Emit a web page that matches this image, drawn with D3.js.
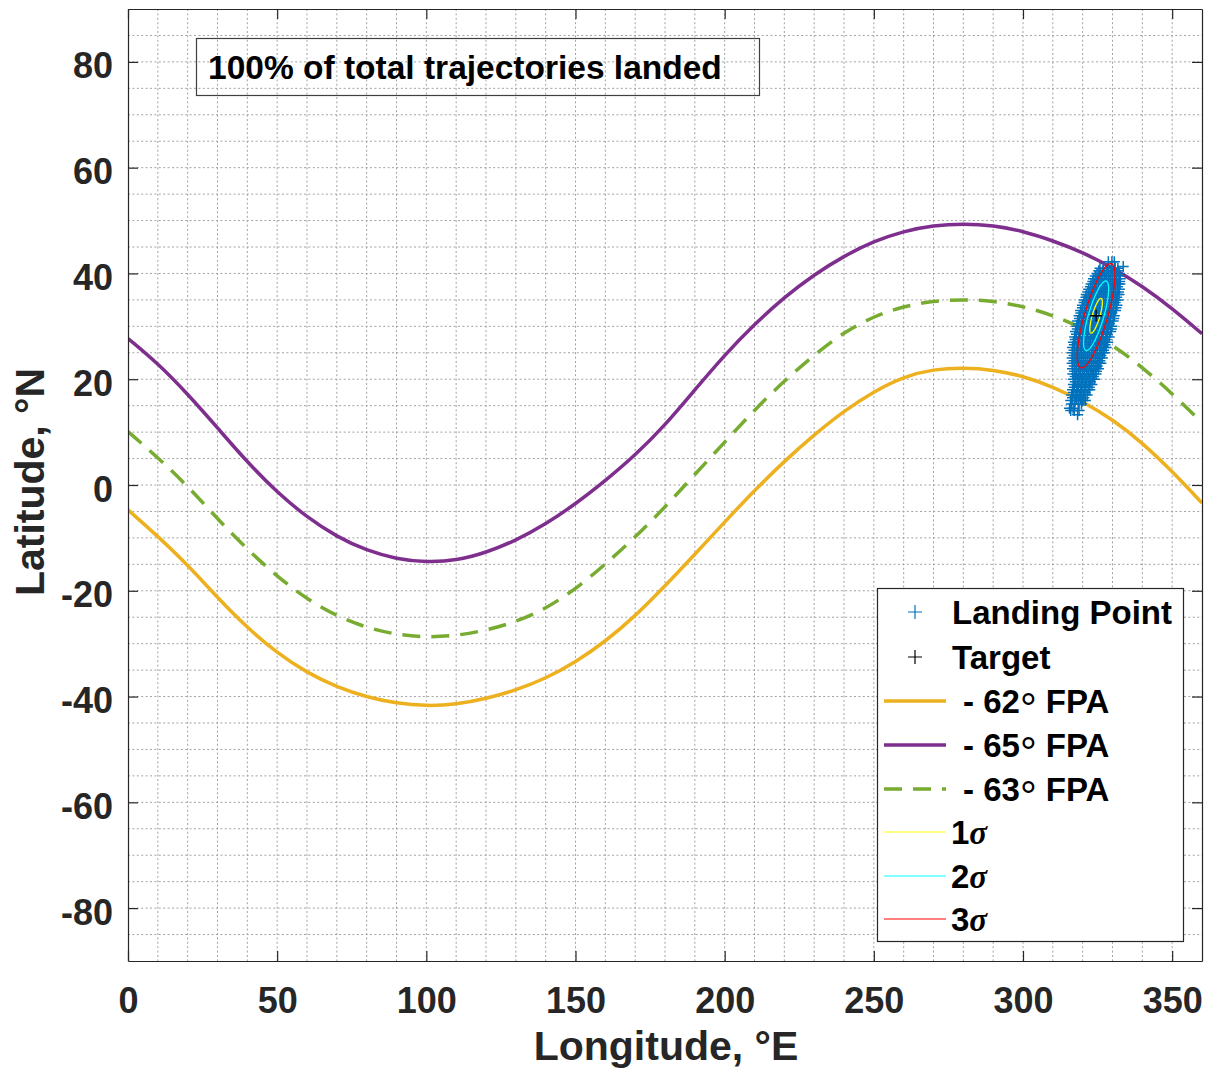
<!DOCTYPE html>
<html>
<head>
<meta charset="utf-8">
<script src="https://cdn.jsdelivr.net/npm/d3@7"></script>
<style>
  body { margin: 0; background: #fff; }
  svg { display: block; }
  text { font-family: "Liberation Sans", Arial, Helvetica, sans-serif; }
</style>
</head>
<body>
<svg id="chart" width="1209" height="1074"></svg>
<script>
// ---- Data -------------------------------------------------------------
// Longitude samples (deg E) shared by the three flight-path-angle tracks
const longitudes = [0,10,20,30,40,50,60,70,80,90,100,110,120,130,140,150,160,170,180,
                    190,200,210,220,230,240,250,260,270,280,290,300,310,320,330,340,350,360];

// Latitude (deg N) of each constant-FPA entry track
const fpa62 = [-4.7,-9.7,-15.1,-21.3,-27.0,-31.8,-35.5,-38.2,-40.1,-41.3,-41.8,-41.5,-40.4,-38.8,
               -36.6,-33.5,-29.6,-24.8,-19.1,-13.1,-7.0,-1.0,4.5,9.5,14.0,17.7,20.5,21.9,22.2,
               21.8,20.6,18.6,15.8,12.4,8.0,2.6,-3.4];
const fpa65 = [27.7,23.0,17.2,10.8,4.3,-1.4,-6.1,-9.8,-12.4,-14.0,-14.6,-14.3,-12.8,-10.5,
               -7.4,-3.6,0.8,5.6,11.3,18.0,24.6,30.4,35.5,39.8,43.3,46.1,48.0,49.1,49.4,
               49.1,48.0,46.2,44.0,41.1,37.6,33.4,28.6];
const fpa63 = [10.1,5.2,-0.2,-6.4,-12.2,-17.3,-21.6,-24.8,-27.0,-28.3,-28.8,-28.5,-27.5,-25.9,
               -23.4,-19.7,-15.0,-9.9,-4.2,2.0,8.1,14.2,19.7,24.6,28.9,31.9,33.8,34.8,35.1,
               34.8,33.8,32.1,29.7,26.5,22.3,17.3,11.8];

// Monte Carlo landing points, grouped by latitude row: [lat, [lon, lon, ...]]
const landingRows = [
  [42.2, [328.6, 329.8, 330.6]],
  [41.3, [333.6]],
  [41.0, [325.8, 327.0, 328.3, 329.6, 330.9, 331.8]],
  [40.5, [325.4, 326.7, 328.0, 329.3, 330.6, 331.8]],
  [40.0, [324.8, 326.1, 327.4, 328.7, 330.0, 331.3, 332.3]],
  [39.5, [324.2, 325.5, 326.8, 328.1, 329.4, 330.7, 332.0]],
  [39.0, [323.6, 324.9, 326.2, 327.5, 328.8, 330.1, 331.4, 332.6]],
  [38.5, [323.4, 324.7, 326.0, 327.3, 328.6, 329.9, 331.2, 332.4]],
  [38.0, [322.8, 324.1, 325.4, 326.7, 328.0, 329.3, 330.6, 331.9, 332.5]],
  [37.5, [322.6, 323.9, 325.2, 326.5, 327.8, 329.1, 330.4, 331.7]],
  [37.0, [322.0, 323.3, 324.6, 325.9, 327.2, 328.5, 329.8, 331.1, 332.3]],
  [36.5, [321.8, 323.1, 324.4, 325.7, 327.0, 328.3, 329.6, 330.9, 332.0]],
  [36.0, [321.2, 322.5, 323.8, 325.1, 326.4, 327.7, 329.0, 330.3, 331.6, 332.2]],
  [35.5, [321.1, 322.4, 323.7, 325.0, 326.3, 327.6, 328.9, 330.2, 331.4]],
  [35.0, [320.5, 321.8, 323.1, 324.4, 325.7, 327.0, 328.3, 329.6, 330.9, 331.9]],
  [34.5, [320.5, 321.8, 323.1, 324.4, 325.7, 327.0, 328.3, 329.6, 330.9]],
  [34.0, [319.9, 321.2, 322.5, 323.8, 325.1, 326.4, 327.7, 329.0, 330.3, 331.5]],
  [33.5, [319.9, 321.2, 322.5, 323.8, 325.1, 326.4, 327.7, 329.0, 330.3, 331.2]],
  [33.0, [319.3, 320.6, 321.9, 323.2, 324.5, 325.8, 327.1, 328.4, 329.7, 331.0]],
  [32.5, [319.4, 320.7, 322.0, 323.3, 324.6, 325.9, 327.2, 328.5, 329.8]],
  [32.0, [318.8, 320.1, 321.4, 322.7, 324.0, 325.3, 326.6, 327.9, 329.2, 330.6]],
  [31.5, [318.9, 320.2, 321.5, 322.8, 324.1, 325.4, 326.7, 328.0, 329.3, 330.4]],
  [31.0, [318.3, 319.6, 320.9, 322.2, 323.5, 324.8, 326.1, 327.4, 328.7, 330.2]],
  [30.5, [318.6, 319.9, 321.2, 322.5, 323.8, 325.1, 326.4, 327.7, 329.0]],
  [30.0, [318.0, 319.3, 320.6, 321.9, 323.2, 324.5, 325.8, 327.1, 328.4, 329.8]],
  [29.5, [318.2, 319.5, 320.8, 322.1, 323.4, 324.7, 326.0, 327.3, 328.6, 329.6]],
  [29.0, [317.6, 318.9, 320.2, 321.5, 322.8, 324.1, 325.4, 326.7, 328.0, 329.4]],
  [28.5, [317.9, 319.2, 320.5, 321.8, 323.1, 324.4, 325.7, 327.0, 328.3]],
  [28.0, [317.3, 318.6, 319.9, 321.2, 322.5, 323.8, 325.1, 326.4, 327.7, 328.9]],
  [27.5, [317.5, 318.8, 320.1, 321.4, 322.7, 324.0, 325.3, 326.6, 327.9]],
  [27.0, [316.9, 318.2, 319.5, 320.8, 322.1, 323.4, 324.7, 326.0, 327.3, 328.4]],
  [26.5, [317.2, 318.5, 319.8, 321.1, 322.4, 323.7, 325.0, 326.3, 327.5]],
  [26.0, [316.6, 317.9, 319.2, 320.5, 321.8, 323.1, 324.4, 325.7, 327.0, 327.9]],
  [25.5, [317.1, 318.4, 319.7, 321.0, 322.3, 323.6, 324.9, 326.2, 327.0]],
  [25.0, [316.5, 317.8, 319.1, 320.4, 321.7, 323.0, 324.3, 325.6, 326.8, 327.3]],
  [24.5, [317.1, 318.4, 319.7, 321.0, 322.3, 323.6, 324.9, 326.1]],
  [24.0, [316.5, 317.7, 319.0, 320.3, 321.6, 322.9, 324.2, 325.5, 326.6]],
  [23.5, [317.1, 318.4, 319.7, 321.0, 322.3, 323.6, 324.9, 325.8]],
  [23.0, [316.5, 317.8, 319.1, 320.4, 321.7, 323.0, 324.3, 325.6, 326.1]],
  [22.5, [317.2, 318.5, 319.8, 321.1, 322.4, 323.7, 324.9]],
  [22.0, [316.6, 317.9, 319.2, 320.5, 321.8, 323.1, 324.4, 325.3]],
  [21.5, [317.3, 318.6, 319.9, 321.2, 322.5, 323.8, 324.6]],
  [21.0, [316.7, 318.0, 319.3, 320.6, 321.9, 323.2, 324.5]],
  [20.5, [317.5, 318.8, 320.1, 321.4, 322.7, 323.6]],
  [20.0, [316.9, 318.2, 319.5, 320.8, 322.1, 323.4, 324.0]],
  [19.5, [317.5, 318.8, 320.1, 321.4, 322.6]],
  [19.0, [316.9, 318.2, 319.5, 320.8, 322.1, 323.1]],
  [18.5, [317.2, 318.5, 319.8, 321.1, 322.2]],
  [18.0, [316.6, 317.9, 319.2, 320.5, 321.8, 322.4]],
  [17.5, [316.9, 318.2, 319.5, 320.8]],
  [17.0, [316.3, 317.6, 318.9, 320.2, 321.5]],
  [16.5, [316.6, 317.9, 319.2, 320.4]],
  [16.0, [316.0, 317.3, 318.6, 320.0, 320.9]],
  [15.3, [316.2, 317.4, 318.5, 319.6]],
  [14.5, [315.6, 316.8]],
  [14.1, [316.0, 317.2, 318.8]],
  [13.3, [318.3]]
];

// Target landing site and dispersion ellipse (3-sigma semi-axes, deg)
const target = [324.5, 32.0];
const sigma3Major = [5.1, 9.85];
const sigma3Minor = [3.7, -0.6];
const sigmaLevels = [1, 2, 3];
const sigmaColors = ["#ffff00", "#00ffff", "#ff0000"];

const xTickValues = [0, 50, 100, 150, 200, 250, 300, 350];
const yTickValues = [-80, -60, -40, -20, 0, 20, 40, 60, 80];
const annotation = "100% of total trajectories landed";

// ---- Layout -----------------------------------------------------------
const svg = d3.select("#chart");
const plot = { left: 128, right: 1202, top: 9, bottom: 961 };
const x = d3.scaleLinear().domain([0, 360]).range([plot.left, plot.right]);
const y = d3.scaleLinear().domain([-90, 90]).range([plot.bottom, plot.top]);
const axisColor = "#262626";

svg.append("defs").append("clipPath").attr("id", "plotClip")
  .append("rect")
  .attr("x", plot.left).attr("y", plot.top)
  .attr("width", plot.right - plot.left).attr("height", plot.bottom - plot.top);

// ---- Grid (dotted, every 10 deg lon and 5 deg lat) ----------------------
const grid = svg.append("g").attr("stroke", "#a2a2a2").attr("stroke-width", 1)
  .attr("stroke-dasharray", "2,2.4");
grid.selectAll("line.gx").data(d3.range(10, 360, 10)).join("line")
  .attr("x1", d => x(d)).attr("x2", d => x(d))
  .attr("y1", plot.top).attr("y2", plot.bottom);
grid.selectAll("line.gy").data(d3.range(-85, 90, 5)).join("line")
  .attr("y1", d => y(d)).attr("y2", d => y(d))
  .attr("x1", plot.left).attr("x2", plot.right);

// ---- FPA tracks --------------------------------------------------------
const tracks = [
  { angle: "62", values: fpa62, color: "#EDB120", dash: null },
  { angle: "65", values: fpa65, color: "#7E2F8E", dash: null },
  { angle: "63", values: fpa63, color: "#77AC30", dash: "18,11" }
];
const line = d3.line().x(d => x(d[0])).y(d => y(d[1])).curve(d3.curveBasis);
const trackG = svg.append("g").attr("clip-path", "url(#plotClip)");
tracks.forEach(t => {
  trackG.append("path")
    .datum(longitudes.map((lon, i) => [lon, t.values[i]]))
    .attr("d", line)
    .attr("fill", "none")
    .attr("stroke", t.color)
    .attr("stroke-width", 3.5)
    .attr("stroke-dasharray", t.dash);
});

// ---- Landing points ----------------------------------------------------
const landingPoints = landingRows.flatMap(([lat, lons]) => lons.map(lon => [lon, lat]));
const plus = (cx, cy, r) => `M${cx - r},${cy}h${2 * r}M${cx},${cy - r}v${2 * r}`;
svg.append("g").attr("clip-path", "url(#plotClip)")
  .selectAll("path").data(landingPoints).join("path")
  .attr("d", d => plus(x(d[0]), y(d[1]), 5.5))
  .attr("fill", "none").attr("stroke", "#0072BD").attr("stroke-width", 1.5);

// ---- Dispersion ellipses ------------------------------------------------
const angles = d3.range(0, 361, 3).map(a => a * Math.PI / 180);
sigmaLevels.forEach((k, i) => {
  const s = k / 3;
  const pts = angles.map(t => [
    target[0] + s * (Math.cos(t) * sigma3Major[0] + Math.sin(t) * sigma3Minor[0]),
    target[1] + s * (Math.cos(t) * sigma3Major[1] + Math.sin(t) * sigma3Minor[1])
  ]);
  svg.append("path")
    .datum(pts)
    .attr("d", d3.line().x(d => x(d[0])).y(d => y(d[1])))
    .attr("fill", "none")
    .attr("stroke", sigmaColors[i])
    .attr("stroke-width", 1.3);
});

// ---- Target --------------------------------------------------------------
svg.append("path")
  .attr("d", plus(x(target[0]), y(target[1]), 6))
  .attr("stroke", "#000").attr("stroke-width", 1.3);

// ---- Axes (box with inward ticks) ---------------------------------------
const fmt = d => String(d);
const bottomAxis = svg.append("g").attr("transform", `translate(0,${plot.bottom})`)
  .call(d3.axisBottom(x).tickValues(xTickValues).tickSizeInner(-10).tickSizeOuter(0).tickPadding(14).tickFormat(fmt));
const topAxis = svg.append("g").attr("transform", `translate(0,${plot.top})`)
  .call(d3.axisTop(x).tickValues(xTickValues).tickSizeInner(-10).tickSizeOuter(0).tickFormat(""));
const leftAxis = svg.append("g").attr("transform", `translate(${plot.left},0)`)
  .call(d3.axisLeft(y).tickValues(yTickValues).tickSizeInner(-10).tickSizeOuter(0).tickPadding(14).tickFormat(fmt));
const rightAxis = svg.append("g").attr("transform", `translate(${plot.right},0)`)
  .call(d3.axisRight(y).tickValues(yTickValues).tickSizeInner(-10).tickSizeOuter(0).tickFormat(""));

[bottomAxis, topAxis, leftAxis, rightAxis].forEach(g => {
  g.select(".domain").attr("stroke", axisColor).attr("stroke-width", 1.2);
  g.selectAll(".tick line").attr("stroke", axisColor).attr("stroke-width", 1.2);
  g.selectAll(".tick text")
    .attr("fill", axisColor)
    .attr("font-size", 36)
    .attr("font-weight", "bold")
    .attr("font-family", "Liberation Sans, Arial, sans-serif");
});
bottomAxis.selectAll(".tick text").attr("dy", null).attr("y", 52);
leftAxis.selectAll(".tick text").attr("dy", null).attr("y", 16).attr("x", -15);

// Axis titles
svg.append("text")
  .attr("x", 666).attr("y", 1060)
  .attr("text-anchor", "middle")
  .attr("font-size", 41).attr("font-weight", "bold").attr("fill", axisColor)
  .text("Longitude, °E");
svg.append("text")
  .attr("transform", "translate(44,482) rotate(-90)")
  .attr("text-anchor", "middle")
  .attr("font-size", 41).attr("font-weight", "bold").attr("fill", axisColor)
  .text("Latitude, °N");

// ---- Annotation box ------------------------------------------------------
svg.append("rect")
  .attr("x", 196.5).attr("y", 38.5).attr("width", 563).attr("height", 57)
  .attr("fill", "none").attr("stroke", "#404040").attr("stroke-width", 1.2);
svg.append("text")
  .attr("x", 208).attr("y", 79)
  .attr("font-size", 33.5).attr("font-weight", "bold").attr("fill", "#000")
  .text(annotation);

// ---- Legend ----------------------------------------------------------------
const legend = svg.append("g");
legend.append("rect")
  .attr("x", 877.5).attr("y", 588.5).attr("width", 306).attr("height", 353)
  .attr("fill", "#fff").attr("stroke", axisColor).attr("stroke-width", 1.2);

const legendItems = [
  { type: "marker", color: "#0072BD", label: "Landing Point", cy: 612, tx: 952 },
  { type: "marker", color: "#000000", label: "Target", cy: 657, tx: 952 },
  { type: "line", color: tracks[0].color, width: 3.5, fpa: tracks[0].angle, cy: 701, tx: 963 },
  { type: "line", color: tracks[1].color, width: 3.5, fpa: tracks[1].angle, cy: 745, tx: 963 },
  { type: "line", color: tracks[2].color, width: 3.5, dash: "18,11", fpa: tracks[2].angle, cy: 789, tx: 963 },
  { type: "line", color: sigmaColors[0], width: 1.2, sigma: "1", cy: 832, tx: 951 },
  { type: "line", color: sigmaColors[1], width: 1.2, sigma: "2", cy: 876, tx: 951 },
  { type: "line", color: sigmaColors[2], width: 1.2, sigma: "3", cy: 919, tx: 951 }
];
legendItems.forEach(it => {
  if (it.type === "marker") {
    legend.append("path").attr("d", plus(915, it.cy, 7))
      .attr("stroke", it.color).attr("stroke-width", 1.2);
  } else {
    legend.append("line")
      .attr("x1", 884).attr("x2", 946).attr("y1", it.cy).attr("y2", it.cy)
      .attr("stroke", it.color).attr("stroke-width", it.width)
      .attr("stroke-dasharray", it.dash || null);
  }
  const t = legend.append("text")
    .attr("x", it.tx).attr("y", it.cy + 12)
    .attr("font-size", 33).attr("font-weight", "bold").attr("fill", "#000");
  if (it.sigma) {
    t.append("tspan").text(it.sigma);
    t.append("tspan")
      .attr("font-family", "Liberation Serif, Times New Roman, serif")
      .attr("font-style", "italic")
      .text("σ");
  } else if (it.fpa) {
    // "- NN∘ FPA" with a larger, lowered ring for the degree mark
    t.append("tspan").text(`- ${it.fpa}`);
    t.append("tspan")
      .attr("font-size", 42).attr("font-weight", "normal").attr("dy", 10)
      .text("°");
    t.append("tspan").attr("dy", -10).text(" FPA");
  } else {
    t.text(it.label);
  }
});
</script>
</body>
</html>
